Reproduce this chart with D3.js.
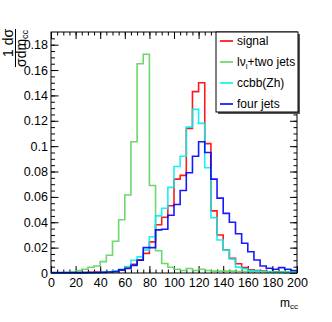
<!DOCTYPE html>
<html><head><meta charset="utf-8">
<script src="https://cdn.jsdelivr.net/npm/d3@7"></script>
<style>
html,body{margin:0;padding:0;background:#fff;}
svg{display:block;font-family:"Liberation Sans",Arial,Helvetica,sans-serif;}
</style></head>
<body><svg id="c" width="332" height="322"></svg>
<script>
// bin lower edges (bin width 5)
const binLow = [0,5,10,15,20,25,30,35,40,45,50,55,60,65,70,75,80,85,90,95,100,105,110,115,120,125,130,135,140,145,150,155,160,165,170,175,180,185,190,195];
const binHigh = 200;
const signal = [0,0,0,0,0.0003,0.0003,0.0005,0.0008,0.0006,0.001,0.0015,0.0025,0.0045,0.0068,0.0105,0.0155,0.0245,0.038,0.044,0.053,0.074,0.077,0.114,0.143,0.150,0.102,0.049,0.030,0.018,0.0115,0.0073,0.0042,0.0025,0.002,0.0015,0.001,0.001,0.0008,0.0005,0.0005];
const lnuJets = [0,0,0.0003,0.0008,0.002,0.003,0.0045,0.0055,0.009,0.014,0.025,0.042,0.0615,0.1035,0.165,0.1725,0.069,0.0175,0.0075,0.0045,0.003,0.002,0.0035,0.002,0.003,0.002,0.0015,0.0015,0.0015,0.0015,0.0012,0.0012,0.001,0.001,0.0012,0.0008,0.0006,0.0006,0.001,0.001];
const ccbbZh = [0,0,0,0,0,0,0,0,0.0005,0.001,0.0015,0.003,0.005,0.010,0.0127,0.018,0.0286,0.045,0.051,0.0675,0.084,0.092,0.115,0.129,0.118,0.083,0.0435,0.026,0.018,0.011,0.0046,0.0033,0.002,0.0015,0.001,0.0008,0.0006,0.0005,0.0005,0.0004];
const fourJets = [0.0003,0.0003,0.0003,0.0003,0.0003,0.0003,0.0004,0.0004,0.0005,0.0008,0.001,0.0025,0.0035,0.006,0.010,0.020,0.020,0.034,0.0345,0.0455,0.054,0.065,0.079,0.092,0.1035,0.095,0.074,0.059,0.047,0.040,0.031,0.0234,0.0168,0.0103,0.0055,0.0037,0.003,0.0042,0.003,0.002];
const xTickValues = [0,20,40,60,80,100,120,140,160,180,200];
const xTickLabels = ["0","20","40","60","80","100","120","140","160","180","200"];
const yTickValues = [0,0.02,0.04,0.06,0.08,0.1,0.12,0.14,0.16,0.18];
const yTickLabels = ["0","0.02","0.04","0.06","0.08","0.1","0.12","0.14","0.16","0.18"];
const xMinor = [0,5,10,15,20,25,30,35,40,45,50,55,60,65,70,75,80,85,90,95,100,105,110,115,120,125,130,135,140,145,150,155,160,165,170,175,180,185,190,195,200];
const yMinor = [0,0.005,0.01,0.015,0.02,0.025,0.03,0.035,0.04,0.045,0.05,0.055,0.06,0.065,0.07,0.075,0.08,0.085,0.09,0.095,0.1,0.105,0.11,0.115,0.12,0.125,0.13,0.135,0.14,0.145,0.15,0.155,0.16,0.165,0.17,0.175,0.18,0.185];
const seriesNames = ["signal","lν+two jets","ccbb(Zh)","four jets"];
const seriesColors = ["#ff0000","#5fd35f","#00f0f0","#0000ff"];

const L=51, R=297, T=32, B=273;
const svg = d3.select("#c");
const x = d3.scaleLinear().domain([0,200]).range([L,R]);
const y = d3.scaleLinear().domain([0,0.19]).range([B,T]);

const fmtX = v => xTickLabels[xTickValues.indexOf(v)];
const fmtY = v => yTickLabels[yTickValues.indexOf(v)];

function styleAxis(g){ g.select(".domain").remove(); g.selectAll("line").attr("stroke","#000"); }
// bottom
svg.append("g").attr("transform",`translate(0,${B})`)
  .call(d3.axisBottom(x).tickValues(xMinor).tickSize(-3.5).tickFormat("")).call(styleAxis);
svg.append("g").attr("transform",`translate(0,${B})`)
  .call(d3.axisBottom(x).tickValues(xTickValues).tickSize(-7).tickPadding(5).tickFormat(fmtX))
  .call(styleAxis).call(g=>g.selectAll("text").attr("font-size",12.5).attr("fill","#000").attr("font-family","Liberation Sans, Arial, sans-serif"));
// top
svg.append("g").attr("transform",`translate(0,${T})`)
  .call(d3.axisTop(x).tickValues(xMinor).tickSize(-3.5).tickFormat("")).call(styleAxis);
svg.append("g").attr("transform",`translate(0,${T})`)
  .call(d3.axisTop(x).tickValues(xTickValues).tickSize(-7).tickFormat("")).call(styleAxis);
// left
svg.append("g").attr("transform",`translate(${L},0)`)
  .call(d3.axisLeft(y).tickValues(yMinor).tickSize(-4).tickFormat("")).call(styleAxis);
svg.append("g").attr("transform",`translate(${L},0)`)
  .call(d3.axisLeft(y).tickValues(yTickValues).tickSize(-7.5).tickPadding(3).tickFormat(fmtY))
  .call(styleAxis).call(g=>g.selectAll("text").attr("font-size",12.5).attr("fill","#000").attr("font-family","Liberation Sans, Arial, sans-serif"));
// right
svg.append("g").attr("transform",`translate(${R},0)`)
  .call(d3.axisRight(y).tickValues(yMinor).tickSize(-3.5).tickFormat("")).call(styleAxis);
svg.append("g").attr("transform",`translate(${R},0)`)
  .call(d3.axisRight(y).tickValues(yTickValues).tickSize(-7).tickFormat("")).call(styleAxis);

// histograms
const line = d3.line().x(d=>x(d[0])).y(d=>y(d[1])).curve(d3.curveStepAfter);
const allSeries = [signal, lnuJets, ccbbZh, fourJets];
allSeries.forEach((vals,i)=>{
  const pts = binLow.map((b,j)=>[b, vals[j]]);
  pts.push([binHigh, vals[vals.length-1]]);
  svg.append("path").attr("d", line(pts)).attr("fill","none")
    .attr("stroke", seriesColors[i]).attr("stroke-width",1.6).attr("stroke-opacity",0.9);
});

// frame
svg.append("rect").attr("x",L).attr("y",T).attr("width",R-L).attr("height",B-T)
  .attr("fill","none").attr("stroke","#000").attr("stroke-width",1);

// legend
const lg = svg.append("g");
lg.append("rect").attr("x",218).attr("y",34).attr("width",82).attr("height",80).attr("fill","#555");
lg.append("rect").attr("x",216).attr("y",32).attr("width",82).attr("height",80).attr("fill","#fff").attr("stroke","#000").attr("stroke-width",1);
const ly = [41,62,83,104];
seriesNames.forEach((n,i)=>{
  lg.append("line").attr("x1",220).attr("x2",233).attr("y1",ly[i]).attr("y2",ly[i])
    .attr("stroke",seriesColors[i]).attr("stroke-width",1.6);
  const t = lg.append("text").attr("x",237).attr("y",ly[i]+4.3).attr("font-size",12).attr("fill","#000");
  if(i===1){
    t.append("tspan").text("lν");
    t.append("tspan").attr("font-size",8).attr("dy",2.5).text("l");
    t.append("tspan").attr("dy",-2.5).text("+two jets");
  } else t.text(n);
});

// x title
const xt = svg.append("text").attr("x",280).attr("y",307).attr("font-size",12).attr("fill","#000");
xt.append("tspan").text("m");
xt.append("tspan").attr("font-size",8).attr("dy",2).text("cc");

// y title (fraction, rotated)
const yt = svg.append("g").attr("transform","rotate(-90)");
yt.append("text").attr("x",-57).attr("y",13).attr("font-size",14).attr("fill","#000").text("1 dσ");
const den = yt.append("text").attr("x",-67).attr("y",26).attr("font-size",14).attr("fill","#000");
den.append("tspan").text("σdm");
den.append("tspan").attr("font-size",9).attr("dy",2).text("cc");
svg.append("line").attr("x1",15.5).attr("x2",15.5).attr("y1",29).attr("y2",67).attr("stroke","#000").attr("stroke-width",1);
</script></body></html>
